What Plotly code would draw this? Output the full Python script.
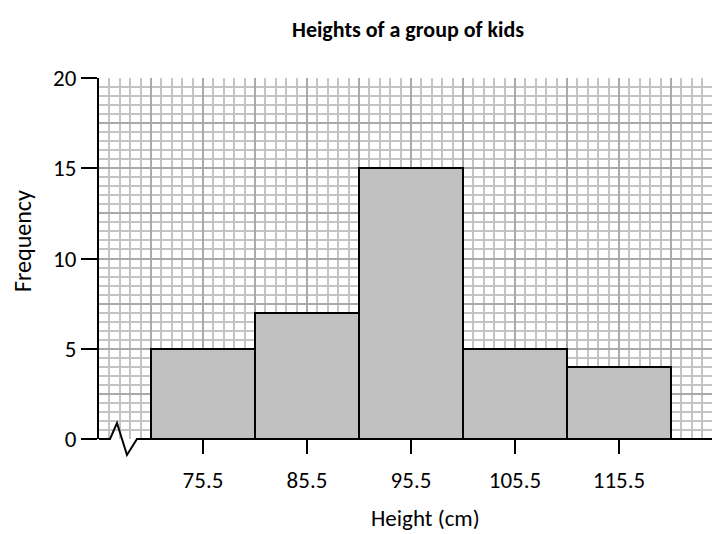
import plotly.graph_objects as go

# ---- data ----
bin_centers = [75.5, 85.5, 95.5, 105.5, 115.5]
frequencies = [5, 7, 15, 5, 4]
tick_labels = ["75.5", "85.5", "95.5", "105.5", "115.5"]
y_ticks = [0, 5, 10, 15, 20]
bin_width = 10

title_text = "Heights of a group of kids"
x_title = "Height (cm)"
y_title = "Frequency"

# ---- layout geometry (page has an 8px body margin) ----
OFF = 8
W, H = 720 - OFF, 534 - OFF
ML, MR, MT, MB = 99 - OFF, 0, 78 - OFF, 534 - 439
X0 = 65.5
PX_PER_UNIT = 10.4
X1 = X0 + (W - ML - MR) / PX_PER_UNIT
Y0, Y1 = 0, 20

FONT = "Carlito, Lato, sans-serif"

fig = go.Figure()

fig.add_trace(go.Bar(
    x=bin_centers, y=frequencies, width=[bin_width] * len(bin_centers),
    marker=dict(color="#c0c0c0", line=dict(color="black", width=2)),
    showlegend=False, hoverinfo="skip",
))
# empty trace to create the grid overlay subplot
fig.add_trace(go.Scatter(x=[], y=[], xaxis="x2", yaxis="y2",
                         showlegend=False, hoverinfo="skip"))

fig.update_layout(
    width=W, height=H,
    margin=dict(l=ML, r=MR, t=MT, b=MB, pad=0),
    paper_bgcolor="white", plot_bgcolor="white",
    font=dict(family=FONT, color="black"),
    xaxis=dict(
        range=[X0, X1], tickvals=bin_centers, ticktext=tick_labels,
        ticks="outside", ticklen=14, tickwidth=2, tickcolor="black",
        tickfont=dict(size=23, family=FONT), ticklabelstandoff=6,
        showgrid=False, zeroline=False, showline=False,
    ),
    yaxis=dict(
        range=[Y0, Y1], tickvals=y_ticks,
        ticks="outside", ticklen=16, tickwidth=2, tickcolor="black",
        tickfont=dict(size=23, family=FONT), ticklabelstandoff=0,
        showgrid=False, zeroline=False,
        showline=True, linecolor="black", linewidth=2,
    ),
    xaxis2=dict(
        overlaying="x", anchor="y2", range=[X0, X1],
        tick0=X0, dtick=5, showticklabels=False, ticks="",
        showgrid=True, gridcolor="#a9a9a9", gridwidth=2, zeroline=False,
        minor=dict(tick0=X0, dtick=1, showgrid=True, gridcolor="#c4c4c4", gridwidth=1.5),
    ),
    yaxis2=dict(
        overlaying="y", anchor="x2", range=[Y0, Y1],
        tick0=0, dtick=2.5, showticklabels=False, ticks="",
        showgrid=True, gridcolor="#a9a9a9", gridwidth=2, zeroline=False,
        minor=dict(tick0=0, dtick=0.5, showgrid=True, gridcolor="#c4c4c4", gridwidth=1.5),
    ),
    bargap=0,
)

# x-axis line with a break (zigzag) near the origin, in data units
zig_x = [X0, 66.56, 67.23, 68.19, 69.15, X1]
zig_y = [0, 0, 0.886, -0.886, 0, 0]

def xp(v):
    return (v - X0) / (X1 - X0)

def yp(v):
    return (v - Y0) / (Y1 - Y0)

path = "M " + " L ".join(f"{xp(a):.5f},{yp(b):.5f}" for a, b in zip(zig_x, zig_y))
fig.add_shape(type="path", path=path, xref="paper", yref="paper",
              line=dict(color="black", width=2), layer="above")

pw = W - ML - MR
ph = H - MT - MB

def px(page_x):
    return (page_x - OFF - ML) / pw

def py(page_y):
    return (H - MB - (page_y - OFF)) / ph

fig.add_annotation(text=f"<b>{title_text}</b>", xref="paper", yref="paper",
                   x=px(408), y=py(30), showarrow=False,
                   font=dict(size=22, family=FONT), xanchor="center", yanchor="middle")
fig.add_annotation(text=x_title, xref="paper", yref="paper",
                   x=px(425), y=py(518), showarrow=False, borderpad=0,
                   font=dict(size=23, family=FONT), xanchor="center", yanchor="middle")
fig.add_annotation(text=y_title, xref="paper", yref="paper",
                   x=px(22), y=py(241), showarrow=False, textangle=-90,
                   font=dict(size=24, family=FONT), xanchor="center", yanchor="middle")

fig.write_html("out.html")
